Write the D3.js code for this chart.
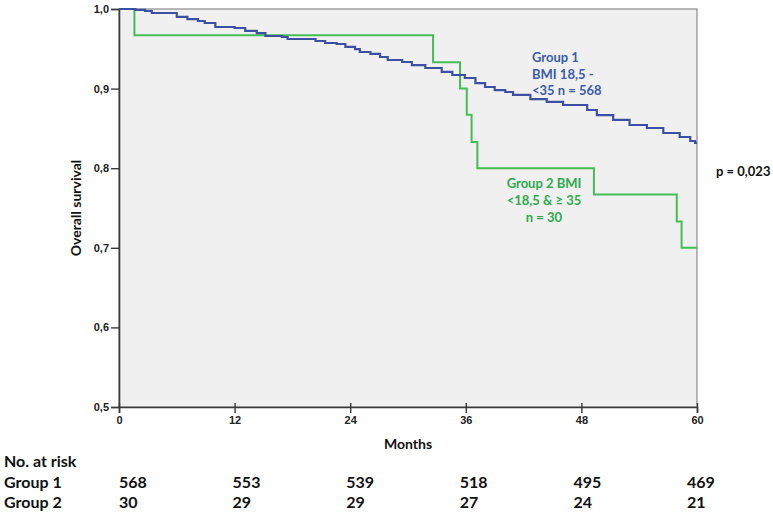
<!DOCTYPE html>
<html>
<head>
<meta charset="utf-8">
<script src="https://cdn.jsdelivr.net/npm/d3@7"></script>
<style>
  html, body { margin: 0; padding: 0; background: #ffffff; }
  svg { display: block; }
</style>
</head>
<body>
<svg id="chart" width="773" height="519"></svg>
<script>
// ---------- data ----------
const monthTicks = [0, 12, 24, 36, 48, 60];
const survivalTicks = [0.5, 0.6, 0.7, 0.8, 0.9, 1.0];

// Group 1 (BMI 18,5 - <35, n = 568): event times (months) and survival after each step
const group1Times = [1.7, 2.7, 3.4, 6.0, 7.1, 8.2, 8.9, 10.0, 12.0, 13.1, 14.3, 15.2, 16.9, 17.5,
  20.4, 21.4, 22.6, 23.5, 24.5, 25.0, 26.1, 27.1, 27.9, 29.4, 30.4, 31.8, 33.5, 34.6, 35.9,
  37.0, 38.0, 39.0, 40.1, 40.9, 42.7, 44.4, 46.1, 48.6, 49.6, 51.3, 53.0, 54.8, 56.5, 58.2,
  59.3, 59.8];
const group1Surv = [0.9990, 0.9975, 0.9950, 0.9900, 0.9874, 0.9849, 0.9824, 0.9774, 0.9761, 0.9724,
  0.9698, 0.9661, 0.9648, 0.9623, 0.9598, 0.9573, 0.9560, 0.9523, 0.9497, 0.9460, 0.9435, 0.9397,
  0.9359, 0.9334, 0.9296, 0.9259, 0.9209, 0.9171, 0.9133, 0.9070, 0.9020, 0.8982, 0.8957, 0.8920,
  0.8869, 0.8832, 0.8794, 0.8731, 0.8668, 0.8606, 0.8543, 0.8505, 0.8442, 0.8392, 0.8342, 0.8317];

// Group 2 (BMI <18,5 & >= 35, n = 30)
const group2Times = [1.6, 32.6, 35.4, 36.1, 36.6, 37.2, 49.3, 57.9, 58.4];
const group2Surv = [0.967, 0.933, 0.900, 0.867, 0.833, 0.800, 0.767, 0.733, 0.700];

// Numbers at risk
const riskGroups = ["Group 1", "Group 2"];
const riskGroup1 = [568, 553, 539, 518, 495, 469];
const riskGroup2 = [30, 29, 29, 27, 24, 21];

const group1Label = ["Group 1", "BMI 18,5 -", "<35 n = 568"];
const group2Label = ["Group 2 BMI", "<18,5 & \u2265 35", "n = 30"];
const pValueText = "p = 0,023";

// ---------- layout ----------
const svg = d3.select("#chart");
const plot = { left: 119, right: 697, top: 9, bottom: 407 };

const x = d3.scaleLinear().domain([0, 60]).range([plot.left, plot.right]);
const y = d3.scaleLinear().domain([0.5, 1.0]).range([plot.bottom, plot.top]);
// columns of the at-risk table
const xRisk = d3.scaleLinear().domain([0, 60]).range([119, 687]);

const blue = "#3c4fa3";
const blueText = "#3b5ca6";
const green = "#45bd55";
const greenText = "#2eaa4c";
const labelFont = "Lato, 'Open Sans', sans-serif";
const tickFont = "'Liberation Sans', Arial, sans-serif";

// background panel
svg.append("rect")
  .attr("x", plot.left).attr("y", plot.top)
  .attr("width", plot.right - plot.left).attr("height", plot.bottom - plot.top)
  .attr("fill", "#f0f0f0")
  .attr("stroke", "#8a8a8a").attr("stroke-width", 1.2);

// axes
const yAxis = d3.axisLeft(y).tickValues(survivalTicks).tickSize(8).tickPadding(2)
  .tickFormat(d => d3.format(".1f")(d).replace(".", ","));
const gy = svg.append("g").attr("transform", `translate(${plot.left},0)`).call(yAxis);

const xAxis = d3.axisBottom(x).tickValues(monthTicks).tickSize(6).tickPadding(3)
  .tickFormat(d3.format("d"));
const gx = svg.append("g").attr("transform", `translate(0,${plot.bottom})`).call(xAxis);

[gx, gy].forEach(g => {
  g.select(".domain").attr("stroke", "#3a3a3a").attr("stroke-width", 1.6);
  g.selectAll(".tick line").attr("stroke", "#3a3a3a").attr("stroke-width", 1.4);
  g.selectAll(".tick text").attr("fill", "#222").attr("font-family", tickFont)
    .attr("font-weight", "bold").attr("font-size", 11);
});
// x ticks slightly crossing the axis
gx.selectAll(".tick line").attr("y1", -4);

// curves
function stepPoints(times, surv) {
  const pts = [[0, 1.0]];
  times.forEach((t, i) => pts.push([t, surv[i]]));
  pts.push([60, surv[surv.length - 1]]);
  return pts;
}
const line = d3.line().x(d => x(d[0])).y(d => y(d[1])).curve(d3.curveStepAfter);

svg.append("path")
  .datum(stepPoints(group2Times, group2Surv))
  .attr("d", line).attr("fill", "none")
  .attr("stroke", green).attr("stroke-width", 2);

svg.append("path")
  .datum(stepPoints(group1Times, group1Surv))
  .attr("d", line).attr("fill", "none")
  .attr("stroke", blue).attr("stroke-width", 2.2);

// in-plot labels
svg.append("text")
  .attr("font-family", labelFont).attr("font-weight", "bold").attr("font-size", 13)
  .attr("fill", blueText)
  .selectAll("tspan").data(group1Label).join("tspan")
  .attr("x", 532).attr("y", (d, i) => 62 + i * 16.5).text(d => d);

svg.append("text")
  .attr("font-family", labelFont).attr("font-weight", "bold").attr("font-size", 13)
  .attr("fill", greenText).attr("text-anchor", "middle")
  .selectAll("tspan").data(group2Label).join("tspan")
  .attr("x", 544).attr("y", (d, i) => 188 + i * 17).text(d => d);

svg.append("text")
  .attr("x", 716).attr("y", 176)
  .attr("font-family", labelFont).attr("font-weight", "bold").attr("font-size", 13)
  .attr("fill", "#111").text(pValueText);

// axis titles
svg.append("text")
  .attr("transform", `translate(81,${(plot.top + plot.bottom) / 2}) rotate(-90)`)
  .attr("text-anchor", "middle")
  .attr("font-family", labelFont).attr("font-weight", "bold").attr("font-size", 14)
  .attr("fill", "#111").text("Overall survival");

svg.append("text")
  .attr("x", (plot.left + plot.right) / 2).attr("y", 449)
  .attr("text-anchor", "middle")
  .attr("font-family", labelFont).attr("font-weight", "bold").attr("font-size", 14)
  .attr("fill", "#111").text("Months");

// at-risk table
const tableFont = { family: labelFont, size: 16 };
svg.append("text")
  .attr("x", 4).attr("y", 467)
  .attr("font-family", tableFont.family).attr("font-weight", "bold").attr("font-size", tableFont.size)
  .attr("fill", "#111").text("No. at risk");

[riskGroup1, riskGroup2].forEach((row, r) => {
  const yy = 488 + r * 20;
  svg.append("text")
    .attr("x", 4).attr("y", yy)
    .attr("font-family", tableFont.family).attr("font-weight", "bold").attr("font-size", tableFont.size)
    .attr("fill", "#111").text(riskGroups[r]);
  svg.append("g").selectAll("text").data(row).join("text")
    .attr("x", (d, i) => xRisk(monthTicks[i])).attr("y", yy)
    .attr("font-family", tableFont.family).attr("font-weight", "bold").attr("font-size", tableFont.size)
    .attr("fill", "#111").text(d => d);
});
</script>
</body>
</html>
